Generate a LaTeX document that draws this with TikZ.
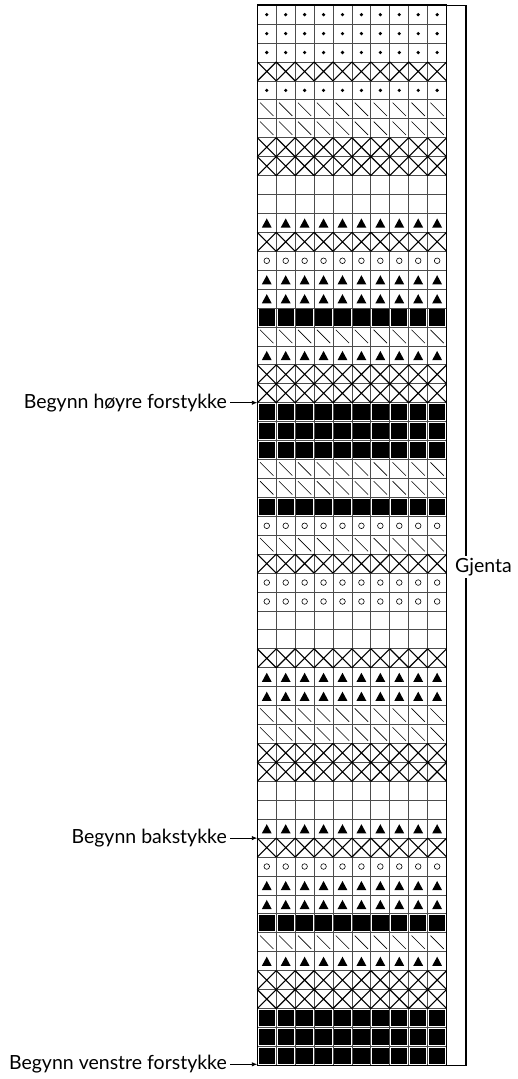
\documentclass[tikz,border=0pt]{standalone}
\usepackage{fontspec}
\setmainfont{Lato}
\usetikzlibrary{arrows.meta}
\begin{document}
\begin{tikzpicture}[x=1pt,y=-1pt,
  gridline/.style={line width=0.8pt, draw=black!70},
  frame/.style={line width=1.6pt, draw=black},
  xmark/.style={line width=1.1pt},
  diagmark/.style={line width=0.6pt},
  ringmark/.style={line width=0.6pt},
  lbl/.style={font=\fontsize{19.5}{23}\selectfont, inner sep=3pt},
  startarrow/.style={line width=0.9pt, -{Latex[length=5.5pt,width=4.5pt]}},
  bracket/.style={line width=1.1pt}]
\useasboundingbox (0,0) rectangle (518,1079);
% grid lines
\foreach \k in {1,...,9}{
  \draw[gridline] ({257.3+\k*18.93},5.2) -- ++(0,1060.1);
}
\foreach \r in {1,...,55}{
  \draw[gridline] (257.3,{5.2+\r*18.93}) -- ++(189.3,0);
}
% cells
\foreach \sym [count=\r from 0] in {d,d,d,x,d,s,s,x,x,e,e,t,x,o,t,t,b,s,t,x,x,b,b,b,s,s,b,o,s,x,o,o,e,e,x,t,t,s,s,x,x,e,e,t,x,o,t,t,b,s,t,x,x,b,b,b}{
  \foreach \k in {0,...,9}{
    \begin{scope}[shift={({257.3+\k*18.93},{5.2+\r*18.93})}]
      \if d\sym \fill (9.465,9.465) circle (1.8); \fi
      \if x\sym \draw[xmark] (0,0) -- (18.93,18.93) (18.93,0) -- (0,18.93); \fi
      \if s\sym \draw[diagmark] (2.8,2.8) -- (16.1,16.1); \fi
      \if o\sym \draw[ringmark] (9.465,9.465) circle (2.8); \fi
      \if t\sym \fill (4.5,14.2) -- (14.4,14.2) -- (9.465,5.0) -- cycle; \fi
      \if b\sym \fill (1.3,1.3) rectangle (17.63,17.63); \fi
    \end{scope}
  }
}
% frame
\node[frame, anchor=north west, minimum width=189.3pt, minimum height=1060.1pt, inner sep=0pt, outer sep=0pt] (grid) at (257.3,5.2) {};
% start arrows
\coordinate (aH) at (257.3,402.7);
\coordinate (aB) at (257.3,838.1);
\coordinate (aV) at (257.3,1065.3);
\node[lbl, anchor=east] (labH) at (230,402.7) {Begynn høyre forstykke};
\node[lbl, anchor=east] (labB) at (230,838.1) {Begynn bakstykke};
\node[lbl, anchor=east] (labV) at (230,1064.3) {Begynn venstre forstykke};
\draw[startarrow] (labH.east) -- (aH);
\draw[startarrow] (labB.east) -- (aB);
\draw[startarrow] (labV.east) -- (aV |- labV.east);
% repeat bracket
\coordinate (bt) at (466,5.2);
\coordinate (bb) at (466,1065.3);
\node[lbl, anchor=west, inner sep=2pt] (gj) at (453,567) {Gjenta};
\draw[bracket] (grid.north east) -- (bt) -- (bt |- gj.north);
\draw[bracket] (bt |- gj.south) -- (bb) -- (grid.south east);
\end{tikzpicture}
\end{document}
